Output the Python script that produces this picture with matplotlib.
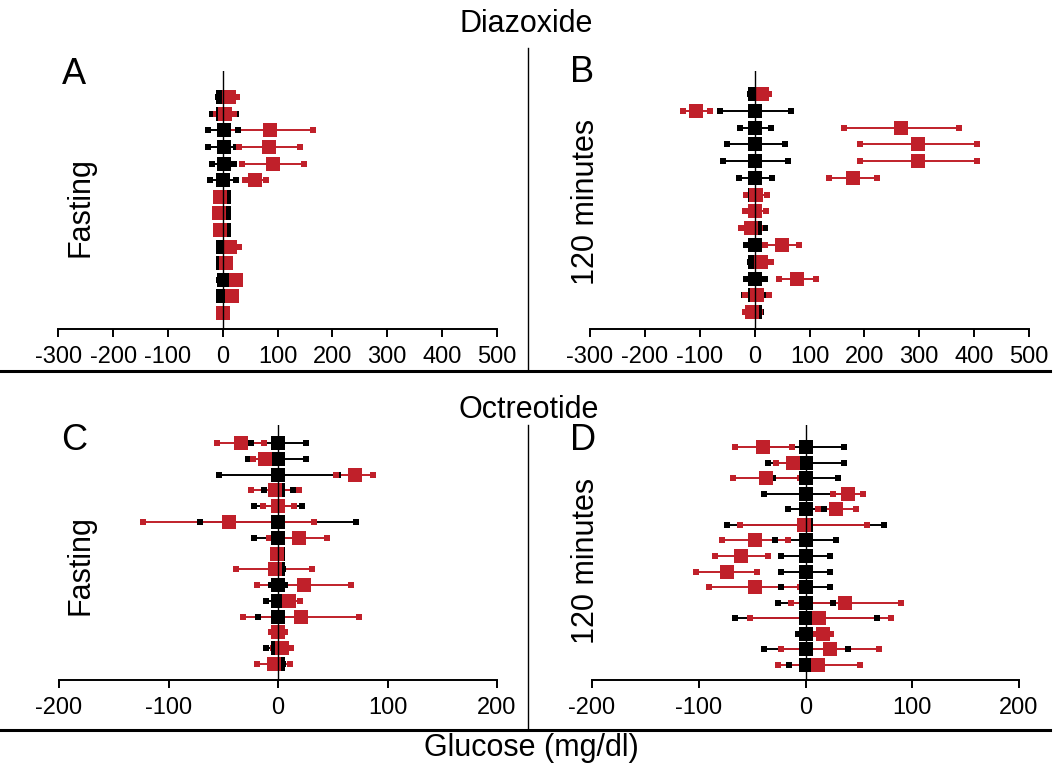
import numpy as np
import matplotlib
matplotlib.use("Agg")
import matplotlib.pyplot as plt
from matplotlib.lines import Line2D

plt.rcParams['font.family'] = ['Liberation Sans', 'DejaVu Sans']
plt.rcParams['axes.unicode_minus'] = False

RED = '#c0202a'
BLK = '#000000'

# Panel A : Diazoxide, fasting
a_blk_mean = [1, 1, 2, 2, 2, 1, 2, 2, 2, 1, 1, 2, 1, 1]
a_blk_lo = [-8, -20, -27, -27, -19, -23, -5, -5, -5, -6, -5, -6, -6, -5]
a_blk_hi = [10, 24, 28, 24, 21, 24, 8, 8, 8, 8, 7, 9, 8, 7]
a_red_mean = [12, 4, 86, 85, 92, 59, -5, -7, -5, 13, 6, 24, 17, 1]
a_red_lo = [-2, -12, 10, 30, 35, 41, -10, -12, -10, -1, 0, 18, 10, -4]
a_red_hi = [26, 21, 164, 141, 148, 79, 0, -2, 0, 30, 12, 30, 24, 6]

# Panel B : Diazoxide, 120 minutes
b_blk_mean = [0, 0, 0, 0, 0, 0, 0, 0, 0, 0, 0, 0, 0, 0]
b_blk_lo = [-8, -64, -27, -51, -58, -29, -8, -8, -15, -15, -8, -15, -19, -10]
b_blk_hi = [8, 66, 29, 55, 60, 31, 8, 8, 18, 15, 8, 18, 20, 12]
b_red_mean = [13, -106, 266, 297, 297, 179, 2, 0, -7, 49, 11, 77, 5, -5]
b_red_lo = [0, -130, 162, 192, 192, 135, -15, -18, -24, 18, -5, 44, -18, -18]
b_red_hi = [27, -82, 372, 405, 405, 223, 22, 20, 9, 80, 29, 111, 26, 9]

# Panel C : Octreotide, fasting
c_blk_mean = [0, 0, 0, 0, 0, 0, 0, 0, 0, 0, 0, 0, 0, 0, 0]
c_blk_lo = [-25, -27, -54, -13, -22, -71, -22, -4, -5, -6, -11, -18, -5, -11, -5]
c_blk_hi = [26, 26, 55, 14, 22, 71, 23, 4, 5, 6, 11, 18, 5, 10, 5]
c_red_mean = [-34, -12, 70, -3, 0, -45, 19, -1, -3, 24, 10, 21, 0, 4, -4]
c_red_lo = [-56, -23, 53, -25, -14, -123, -8, -4, -38, -19, 0, -32, -6, -5, -19]
c_red_hi = [-13, -2, 87, 19, 15, 33, 45, 3, 31, 67, 20, 74, 6, 12, 11]

# Panel D : Octreotide, 120 minutes
d_blk_mean = [0, 0, 0, 0, 0, 0, 0, 0, 0, 0, 0, 0, 0, 0, 0]
d_blk_lo = [-37, -35, -30, -39, -16, -74, -29, -23, -23, -23, -26, -66, -7, -39, -15]
d_blk_hi = [36, 36, 30, 39, 17, 74, 29, 23, 23, 23, 26, 67, 7, 40, 15]
d_red_mean = [-40, -12, -37, 40, 29, -1, -47, -60, -74, -47, 37, 13, 16, 23, 12]
d_red_lo = [-66, -28, -68, 26, 12, -61, -78, -85, -103, -90, -14, -52, 7, -23, -26]
d_red_hi = [-13, 4, -5, 54, 47, 58, -16, -35, -45, -5, 89, 80, 24, 69, 51]

ticks_diaz = [-300, -200, -100, 0, 100, 200, 300, 400, 500]
ticks_oct = [-200, -100, 0, 100, 200]


def draw_panel(ax, bm, bl, bh, rm, rl, rh, ticks, ylim):
    rows = np.arange(len(bm))
    for mean, lo, hi, col in [(bm, bl, bh, BLK), (rm, rl, rh, RED)]:
        ax.hlines(rows, lo, hi, color=col, lw=1.4, zorder=2)
        ax.plot(lo, rows, 's', color=col, ms=4.5, mew=0, zorder=3)
        ax.plot(hi, rows, 's', color=col, ms=4.5, mew=0, zorder=3)
        ax.plot(mean, rows, 's', color=col, ms=10.5, mew=0, zorder=4)
    ax.axvline(0, color='black', lw=1.0, zorder=5)
    ax.set_xlim(ticks[0], ticks[-1])
    ax.set_ylim(*ylim)
    ax.set_xticks(ticks)
    ax.set_yticks([])
    for s in ['top', 'right', 'left']:
        ax.spines[s].set_visible(False)
    ax.spines['bottom'].set_linewidth(1.4)
    ax.tick_params(axis='x', direction='out', length=6, width=1.4,
                   labelsize=17, pad=6)
    ax.patch.set_alpha(0)


fig = plt.figure(figsize=(10.62, 7.70), dpi=100)
W, H = 1062.0, 770.0


def add_ax(x0, x1, ytop, ybot):
    return fig.add_axes([x0 / W, 1 - ybot / H, (x1 - x0) / W, (ybot - ytop) / H])


axA = add_ax(58.3, 496.7, 71, 329)
axB = add_ax(590, 1029, 71, 329)
axC = add_ax(59, 497, 425, 680)
axD = add_ax(592, 1019, 425, 680)

draw_panel(axA, a_blk_mean, a_blk_lo, a_blk_hi, a_red_mean, a_red_lo, a_red_hi,
           ticks_diaz, (13.96, -1.57))
draw_panel(axB, b_blk_mean, b_blk_lo, b_blk_hi, b_red_mean, b_red_lo, b_red_hi,
           ticks_diaz, (14.0, -1.37))
draw_panel(axC, c_blk_mean, c_blk_lo, c_blk_hi, c_red_mean, c_red_lo, c_red_hi,
           ticks_oct, (15.01, -1.14))
draw_panel(axD, d_blk_mean, d_blk_lo, d_blk_hi, d_red_mean, d_red_lo, d_red_hi,
           ticks_oct, (14.96, -1.41))

# separators
def fig_line(x0, y0, x1, y1, lw):
    fig.add_artist(Line2D([x0 / W, x1 / W], [1 - y0 / H, 1 - y1 / H],
                          color='black', lw=lw, transform=fig.transFigure))


fig_line(0, 371, 1050, 371, 2.2)
fig_line(0, 730, 1050, 730, 2.2)
fig_line(528, 48, 528, 371, 1.0)
fig_line(528, 425, 528, 730, 1.0)


def ftext(x, y, s, size, rot=0):
    fig.text(x / W, 1 - y / H, s, fontsize=size, ha='center', va='center',
             rotation=rot)


ftext(526, 24, 'Diazoxide', 22)
ftext(529, 410, 'Octreotide', 22)
ftext(531, 748, 'Glucose (mg/dl)', 22)
ftext(74, 74, 'A', 26)
ftext(582, 73, 'B', 26)
ftext(74, 440, 'C', 26)
ftext(583, 440, 'D', 26)
ftext(80, 207, 'Fasting', 22, 90)
ftext(80, 565, 'Fasting', 22, 90)
ftext(586, 202, '120 minutes', 22, 90)
ftext(586, 561, '120 minutes', 22, 90)

fig.savefig('out.png', dpi=100)
